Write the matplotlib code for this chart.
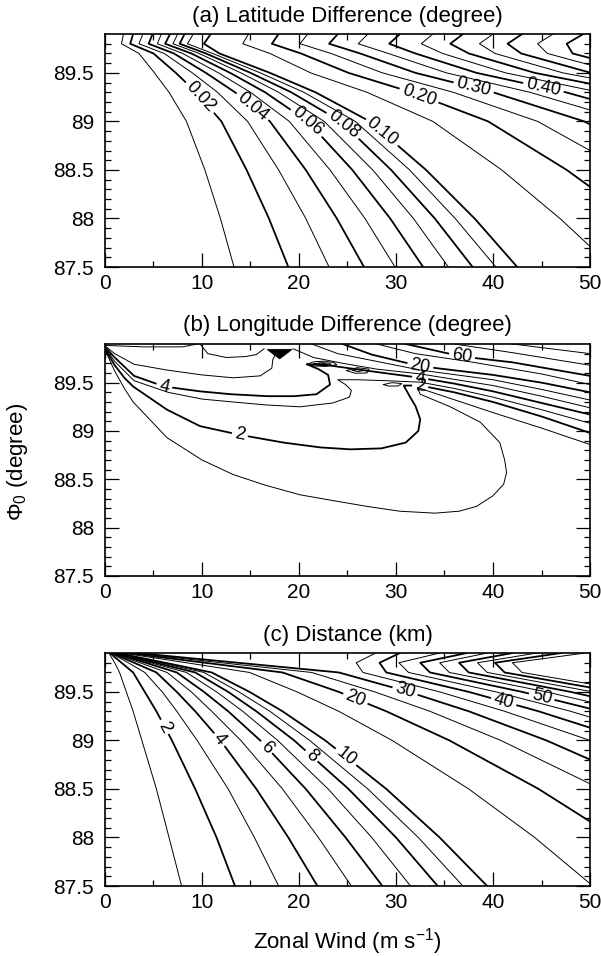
import matplotlib.pyplot as plt
import numpy as np

plt.rcParams['font.family'] = ['Liberation Sans', 'DejaVu Sans']
plt.rcParams['mathtext.fontset'] = 'custom'
plt.rcParams['mathtext.rm'] = 'Liberation Sans'
plt.rcParams['mathtext.it'] = 'Liberation Sans:italic'
plt.rcParams['mathtext.bf'] = 'Liberation Sans:bold'

# Gemeinsame Achsen
wind_ticks = [0, 10, 20, 30, 40, 50]
phi_ticks = [87.5, 88.0, 88.5, 89.0, 89.5]
phi_ticklabels = ['87.5', '88', '88.5', '89', '89.5']

# (a) Latitude difference: zonal wind (m/s) where each isoline crosses the phi0 rows
lat_rows = [87.5, 88.0, 88.5, 89.0, 89.3, 89.5, 89.7, 89.8, 89.9]
lat_levels = [0.01, 0.02, 0.03, 0.04, 0.05, 0.06, 0.07, 0.08, 0.09, 0.10,
              0.15, 0.20, 0.25, 0.30, 0.35, 0.40, 0.45, 0.50, 0.55, 0.60, 0.65, 0.70]
lat_cross = [
    [13.3, 11.9, 10.3, 8.4, 6.6, 5.1, 3.5, 1.7, 1.9],
    [18.9, 16.9, 14.6, 12.0, 9.4, 7.3, 5.0, 2.6, 2.9],
    [23.1, 20.7, 17.9, 14.7, 11.6, 9.0, 6.1, 3.5, 3.9],
    [26.7, 23.9, 20.7, 17.0, 13.4, 10.4, 7.1, 4.5, 4.9],
    [29.9, 26.8, 23.2, 19.0, 15.0, 11.7, 8.0, 5.4, 5.8],
    [32.8, 29.4, 25.5, 20.9, 16.5, 12.9, 8.9, 6.2, 6.7],
    [35.4, 31.8, 27.6, 22.6, 17.9, 14.0, 9.7, 7.0, 7.5],
    [37.9, 34.0, 29.5, 24.3, 19.2, 15.0, 10.4, 7.7, 8.2],
    [40.3, 36.1, 31.4, 25.8, 20.5, 16.0, 11.1, 8.5, 9.1],
    [42.5, 38.1, 33.1, 27.3, 21.7, 17.0, 11.8, 10.2, 10.9],
    [52.3, 46.9, 40.9, 33.8, 27.0, 21.2, 17.0, 14.2, 14.8],
    [60.7, 54.5, 47.6, 39.5, 31.6, 25.1, 20.2, 17.2, 17.9],
    [68.2, 61.3, 53.6, 44.6, 35.9, 28.6, 23.3, 20.1, 20.9],
    [75.0, 67.6, 59.2, 49.4, 40.0, 32.0, 26.3, 23.1, 24.0],
    [81.4, 73.4, 64.4, 54.0, 43.8, 35.2, 29.2, 26.1, 27.1],
    [87.4, 78.9, 69.4, 58.3, 47.5, 38.3, 32.0, 29.3, 30.4],
    [93.2, 84.2, 74.1, 62.5, 51.0, 41.3, 34.8, 32.6, 33.8],
    [98.7, 89.2, 78.7, 66.5, 54.5, 44.3, 37.5, 35.6, 36.9],
    [103.9, 94.1, 83.1, 70.5, 57.9, 47.2, 40.2, 38.6, 40.0],
    [109.0, 98.8, 87.4, 74.3, 61.3, 50.1, 42.9, 41.5, 43.0],
    [114.0, 103.4, 91.6, 78.1, 64.6, 53.0, 45.6, 44.6, 46.2],
    [118.8, 107.9, 95.7, 81.8, 67.8, 55.8, 48.2, 47.6, 49.3],
]
lat_label_levels = [0.02, 0.04, 0.06, 0.08, 0.10, 0.20, 0.30, 0.40]
lat_label_phi = [89.25, 89.15, 89.0, 88.97, 88.89, 89.27, 89.35, 89.35]

# (c) Distance (km): same kind of table
dist_rows = [87.5, 88.0, 88.5, 89.0, 89.3, 89.5, 89.7, 89.8, 89.9]
dist_levels = [1, 2, 3, 4, 5, 6, 7, 8, 9, 10, 15, 20, 25, 30, 35, 40, 45, 50, 55, 60, 65, 70, 75]
dist_cross = [
    [7.9, 6.6, 5.3, 3.8, 2.9, 2.2, 1.5, 1.0, 0.4],
    [13.4, 11.5, 9.3, 6.9, 5.3, 4.1, 2.9, 1.7, 0.5],
    [17.9, 15.4, 12.7, 9.5, 7.4, 5.9, 4.1, 2.4, 0.6],
    [21.9, 18.9, 15.6, 11.9, 9.3, 7.4, 5.3, 3.0, 0.7],
    [25.4, 22.0, 18.3, 14.0, 11.0, 8.9, 6.4, 3.6, 0.8],
    [28.6, 24.8, 20.7, 16.0, 12.7, 10.2, 7.4, 4.2, 0.9],
    [31.5, 27.5, 23.0, 17.8, 14.2, 11.5, 8.4, 4.7, 1.0],
    [34.3, 30.0, 25.1, 19.5, 15.6, 12.7, 9.3, 5.2, 1.1],
    [36.9, 32.3, 27.1, 21.1, 17.0, 13.8, 10.2, 5.7, 1.2],
    [39.4, 34.5, 29.0, 22.7, 18.3, 14.9, 11.0, 6.2, 1.3],
    [50.3, 44.3, 37.5, 29.6, 24.1, 19.8, 14.9, 8.4, 1.8],
    [59.6, 52.6, 44.7, 35.5, 29.0, 24.1, 18.3, 10.3, 2.3],
    [67.8, 59.9, 51.1, 40.8, 33.5, 27.8, 21.3, 12.0, 2.8],
    [75.3, 66.6, 56.9, 45.5, 37.5, 31.3, 24.1, 13.7, 3.3],
    [82.1, 72.8, 62.2, 50.0, 41.2, 34.5, 26.6, 25.9, 27.9],
    [88.5, 78.5, 67.2, 54.1, 44.7, 37.5, 29.0, 28.3, 30.4],
    [94.5, 83.9, 71.9, 57.9, 48.0, 40.3, 31.3, 30.3, 34.5],
    [100.1, 89.0, 76.3, 61.6, 51.1, 43.0, 33.5, 32.5, 37.3],
    [105.5, 93.8, 80.6, 65.1, 54.1, 45.5, 35.5, 34.5, 39.4],
    [110.7, 98.4, 84.6, 68.4, 56.9, 48.0, 37.5, 36.5, 42.0],
    [115.7, 102.9, 88.5, 71.6, 59.6, 50.3, 39.4, 38.4, 44.5],
    [120.4, 107.2, 92.2, 74.7, 62.2, 52.6, 41.2, 40.2, 47.0],
    [125.0, 111.3, 95.8, 77.7, 64.8, 54.8, 43.0, 42.0, 49.5],
]
dist_label_levels = [2, 4, 6, 8, 10, 20, 30, 40, 50]
dist_label_phi = [89.14, 89.01, 88.93, 88.84, 88.83, 89.43, 89.51, 89.40, 89.45]

# (b) Longitude difference: isolines (U, phi0)
lon_curve_u = [
    [0.0, 1.0, 2.0, 2.9, 6.4, 10.0, 13.2, 16.5, 20.1, 23.5, 27.0, 30.4, 34.0, 36.5, 38.3, 40.0,
     41.1, 41.4, 41.2, 40.7, 38.7, 35.6, 32.5, 32.2, 34.0, 40.0, 45.0, 50.0],
    [0.0, 1.0, 2.0, 2.9, 6.4, 9.8, 13.9, 18.4, 22.2, 25.3, 28.5, 31.0, 32.3, 32.5, 32.0, 31.4,
     30.8, 32.5, 36.0, 40.0, 45.0, 50.0],
    [0.0, 1.0, 3.0, 6.5, 10.0, 13.2, 16.5, 20.1, 23.5, 25.2, 25.4, 24.8, 24.0, 26.0, 29.0, 32.5,
     36.0, 40.0, 45.0, 50.0],
    [0.0, 1.0, 3.0, 6.1, 9.8, 13.0, 16.7, 19.5, 21.8, 23.2, 23.0, 22.0, 20.8, 23.0, 26.5, 29.5,
     32.5, 36.0, 40.0, 45.0, 50.0],
    [0.0, 1.0, 3.0, 6.4, 10.0, 13.2, 16.0, 17.2, 17.3, 17.6, 17.8],
    [9.8, 10.6, 12.5, 14.5, 15.6, 16.4],
    [0.0, 4.0, 8.0, 9.5],
    [19.4, 21.5, 24.5, 28.0, 32.5, 40.0, 45.0, 50.0],
    [21.3, 24.0, 28.0, 32.5, 40.0, 45.0, 50.0],
    [24.5, 27.5, 32.5, 40.0, 45.0, 50.0],
    [28.0, 32.0, 38.0, 45.0, 50.0],
    [31.0, 36.8, 42.0, 50.0],
    [36.0, 42.0, 50.0],
    [42.0, 50.0],
]
lon_curve_phi = [
    [89.84, 89.62, 89.44, 89.30, 88.93, 88.70, 88.55, 88.44, 88.34, 88.28, 88.22, 88.17, 88.15,
     88.17, 88.22, 88.33, 88.45, 88.57, 88.70, 88.88, 89.09, 89.25, 89.38, 89.45, 89.39, 89.19,
     89.03, 88.86],
    [89.85, 89.68, 89.55, 89.46, 89.22, 89.05, 88.96, 88.88, 88.83, 88.81, 88.82, 88.88, 89.00,
     89.12, 89.26, 89.36, 89.47, 89.47, 89.40, 89.30, 89.15, 88.98],
    [89.86, 89.72, 89.52, 89.40, 89.33, 89.30, 89.27, 89.25, 89.29, 89.35, 89.42, 89.48, 89.53,
     89.53, 89.52, 89.505, 89.44, 89.35, 89.22, 89.08],
    [89.87, 89.76, 89.57, 89.46, 89.41, 89.38, 89.36, 89.36, 89.38, 89.48, 89.58, 89.64, 89.69,
     89.68, 89.63, 89.59, 89.55, 89.49, 89.41, 89.29, 89.17],
    [89.88, 89.80, 89.69, 89.63, 89.58, 89.55, 89.57, 89.65, 89.74, 89.80, 89.83],
    [89.90, 89.80, 89.76, 89.77, 89.79, 89.85],
    [89.885, 89.87, 89.87, 89.90],
    [89.85, 89.76, 89.70, 89.64, 89.59, 89.47, 89.36, 89.24],
    [89.90, 89.80, 89.72, 89.63, 89.53, 89.43, 89.32],
    [89.90, 89.79, 89.67, 89.58, 89.50, 89.40],
    [89.90, 89.80, 89.71, 89.59, 89.48],
    [89.90, 89.77, 89.71, 89.57],
    [89.90, 89.81, 89.68],
    [89.90, 89.80],
]
lon_curve_thick = [False, True, False, True, False, False, False,
                   False, False, True, False, True, False, False]
lon_label_text = ['2', '4', '2', '4', '20', '60']
lon_label_curve = [1, 3, 1, 3, 9, 11]
lon_label_vertex = [6, 3, 17, 16, 2, 1]

# dense little rings and the black spot near the pole
lon_ring_u = [
    [20.8, 21.5, 22.5, 23.6, 23.9, 22.8, 21.5, 20.8],
    [21.5, 22.3, 23.2, 23.3, 22.3, 21.5],
    [22.0, 22.6, 22.9, 22.3, 22.0],
    [24.9, 26.0, 27.2, 27.0, 25.8, 24.9],
    [25.5, 26.1, 26.7, 26.1, 25.5],
    [28.7, 29.6, 30.6, 30.2, 29.2, 28.7],
]
lon_ring_phi = [
    [89.69, 89.715, 89.722, 89.708, 89.685, 89.668, 89.672, 89.69],
    [89.693, 89.707, 89.70, 89.685, 89.678, 89.693],
    [89.692, 89.698, 89.690, 89.685, 89.692],
    [89.625, 89.655, 89.64, 89.60, 89.597, 89.625],
    [89.627, 89.64, 89.628, 89.613, 89.627],
    [89.48, 89.50, 89.49, 89.465, 89.465, 89.48],
]
lon_blob_u = [16.7, 19.3, 18.6, 18.0, 17.4]
lon_blob_phi = [89.845, 89.845, 89.79, 89.745, 89.79]

THIN, THICK = 0.7, 1.3
LABEL_SIZE = 13


def setup(ax, title):
    ax.set_xlim(0, 50)
    ax.set_ylim(87.5, 89.9)
    ax.set_xticks(wind_ticks)
    ax.set_xticks([5, 15, 25, 35, 45], minor=True)
    ax.set_yticks(phi_ticks)
    ax.set_yticklabels(phi_ticklabels)
    ax.set_yticks(np.arange(876, 899) / 10, minor=True)
    ax.tick_params(which='both', direction='in', top=True, right=True, width=0.9)
    ax.tick_params(which='major', length=10, labelsize=15)
    ax.tick_params(which='minor', length=4.5)
    ax.tick_params(axis='x', pad=5)
    ax.tick_params(axis='y', pad=8)
    for s in ax.spines.values():
        s.set_linewidth(1.2)
    ax.set_title(title, fontsize=16, pad=9)


def arclen(ax, us, ps):
    pts = ax.transData.transform(np.column_stack([us, ps]))
    s = np.concatenate([[0.0], np.cumsum(np.hypot(*np.diff(pts, axis=0).T))])
    return pts, s


def text_half(txt):
    em = LABEL_SIZE * 100 / 72
    w = sum(0.278 if c == '.' else 0.556 for c in txt) * em
    return w / 2 + 4


def labelled_line(ax, us, ps, s_lab, txt, lw):
    pts, s = arclen(ax, us, ps)
    inv = ax.transData.inverted()

    def at(t):
        return np.array([np.interp(t, s, pts[:, 0]), np.interp(t, s, pts[:, 1])])

    half = text_half(txt)
    a, b = s_lab - half, s_lab + half
    left = [pts[i] for i in range(len(s)) if s[i] < a] + [at(a)]
    right = [at(b)] + [pts[i] for i in range(len(s)) if s[i] > b]
    for part in (left, right):
        d = inv.transform(np.array(part))
        ax.plot(d[:, 0], d[:, 1], color='black', lw=lw, solid_joinstyle='round')
    pa, pb = at(a), at(b)
    ang = np.degrees(np.arctan2(pb[1] - pa[1], pb[0] - pa[0]))
    if ang > 90:
        ang -= 180
    elif ang < -90:
        ang += 180
    cx, cy = inv.transform([at(s_lab)])[0]
    ax.text(cx, cy, txt, rotation=ang, rotation_mode='anchor', ha='center', va='center',
            fontsize=LABEL_SIZE)


def table_panel(ax, rows, levels, cross, lab_levels, lab_phi, fmt):
    for k, (lev, us) in enumerate(zip(levels, cross)):
        lw = THICK if k % 2 == 1 else THIN
        if lev in lab_levels:
            p_lab = lab_phi[lab_levels.index(lev)]
            pts, s = arclen(ax, us, rows)
            s_lab = np.interp(p_lab, rows, s)
            labelled_line(ax, us, rows, s_lab, fmt(lev), lw)
        else:
            ax.plot(us, rows, color='black', lw=lw, solid_joinstyle='round')


fig = plt.figure(figsize=(6.01, 9.56), dpi=100)
ax_a = fig.add_axes([0.1747, 0.7207, 0.807, 0.2437])
ax_b = fig.add_axes([0.1747, 0.3975, 0.807, 0.2427])
ax_c = fig.add_axes([0.1747, 0.0732, 0.807, 0.2437])

setup(ax_a, '(a) Latitude Difference (degree)')
setup(ax_b, '(b) Longitude Difference (degree)')
setup(ax_c, '(c) Distance (km)')

# (a)
table_panel(ax_a, lat_rows, lat_levels, lat_cross, lat_label_levels, lat_label_phi,
            lambda v: f'{v:.2f}')

# (b)
for k, (us, ps) in enumerate(zip(lon_curve_u, lon_curve_phi)):
    lw = THICK if lon_curve_thick[k] else THIN
    marks = [j for j, c in enumerate(lon_label_curve) if c == k]
    if not marks:
        ax_b.plot(us, ps, color='black', lw=lw, solid_joinstyle='round')
        continue
    # split the curve at each label vertex
    cuts = sorted(lon_label_vertex[j] for j in marks)
    bounds = [0] + cuts + [len(us) - 1]
    for i in range(len(bounds) - 1):
        lo, hi = bounds[i], bounds[i + 1]
        seg_u, seg_p = us[lo:hi + 1], ps[lo:hi + 1]
        if i == 0:
            # first piece ends at a label vertex: stop half a gap before it
            pts, s = arclen(ax_b, seg_u, seg_p)
            j = [m for m in marks if lon_label_vertex[m] == hi][0]
            half = text_half(lon_label_text[j])
            keep = [pts[q] for q in range(len(s)) if s[q] < s[-1] - half]
            t = s[-1] - half
            keep.append(np.array([np.interp(t, s, pts[:, 0]), np.interp(t, s, pts[:, 1])]))
            d = ax_b.transData.inverted().transform(np.array(keep))
            ax_b.plot(d[:, 0], d[:, 1], color='black', lw=lw, solid_joinstyle='round')
        else:
            j = [m for m in marks if lon_label_vertex[m] == lo][0]
            txt = lon_label_text[j]
            full_u = us[lo - 1:hi + 1]
            full_p = ps[lo - 1:hi + 1]
            pts, s = arclen(ax_b, full_u, full_p)
            s_lab = s[1]
            if i < len(bounds) - 2:
                jn = [m for m in marks if lon_label_vertex[m] == hi][0]
                end = s[-1] - text_half(lon_label_text[jn])
            else:
                end = s[-1]
            half = text_half(txt)
            inv = ax_b.transData.inverted()

            def at(t, s=s, pts=pts):
                return np.array([np.interp(t, s, pts[:, 0]), np.interp(t, s, pts[:, 1])])

            part = [at(s_lab + half)] + [pts[q] for q in range(len(s)) if s_lab + half < s[q] < end]
            part.append(at(end))
            d = inv.transform(np.array(part))
            ax_b.plot(d[:, 0], d[:, 1], color='black', lw=lw, solid_joinstyle='round')
            pa, pb = at(s_lab - half), at(s_lab + half)
            ang = np.degrees(np.arctan2(pb[1] - pa[1], pb[0] - pa[0]))
            if ang > 90:
                ang -= 180
            elif ang < -90:
                ang += 180
            ax_b.text(us[lo], ps[lo], txt, rotation=ang, rotation_mode='anchor',
                      ha='center', va='center', fontsize=LABEL_SIZE)

for us, ps in zip(lon_ring_u, lon_ring_phi):
    ax_b.plot(us, ps, color='black', lw=THIN)
ax_b.fill(lon_blob_u, lon_blob_phi, color='black', lw=0.5)

# (c)
table_panel(ax_c, dist_rows, dist_levels, dist_cross, dist_label_levels, dist_label_phi,
            lambda v: f'{v:d}')

fig.text(347.5 / 601, 1 - 942 / 956, 'Zonal Wind (m s$^{-1}$)', ha='center', va='center',
         fontsize=16)
fig.text(18 / 601, 1 - 462 / 956, r'$\Phi_0$ (degree)', ha='center', va='center',
         rotation=90, fontsize=16)

fig.savefig('out.png', dpi=100)
